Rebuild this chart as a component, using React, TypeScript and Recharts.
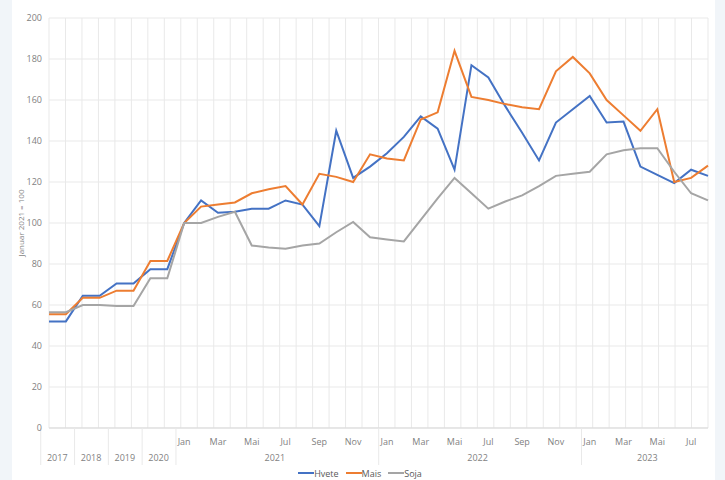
import React from 'react';
import { LineChart, Line, XAxis, YAxis, CartesianGrid, Legend } from 'recharts';

// one entry per point: half-year steps 2017-2020, then monthly from Jan 2021
const years = [
  '2017', '2017', '2018', '2018', '2019', '2019', '2020', '2020',
  '2021', '2021', '2021', '2021', '2021', '2021', '2021', '2021', '2021', '2021', '2021', '2021',
  '2022', '2022', '2022', '2022', '2022', '2022', '2022', '2022', '2022', '2022', '2022', '2022',
  '2023', '2023', '2023', '2023', '2023', '2023', '2023', '2023',
];

const monthLabels = [
  '', '', '', '', '', '', '', '',
  'Jan', '', 'Mar', '', 'Mai', '', 'Jul', '', 'Sep', '', 'Nov', '',
  'Jan', '', 'Mar', '', 'Mai', '', 'Jul', '', 'Sep', '', 'Nov', '',
  'Jan', '', 'Mar', '', 'Mai', '', 'Jul', '',
];

const hvete = [
  52, 52, 64.5, 64.5, 70.5, 70.5, 77.5, 77.5,
  100, 111, 105, 105.5, 107, 107, 111, 109, 98.5, 145, 122, 127.5,
  134, 142, 152, 146, 126, 177, 171, 157, 144, 130.5, 149, 155.5,
  162, 149, 149.5, 127.5, 123.5, 119.5, 126, 123,
];

const mais = [
  55.5, 55.5, 63.5, 63.5, 67, 67, 81.5, 81.5,
  100, 108, 109, 110, 114.5, 116.5, 118, 109, 124, 122.5, 120, 133.5,
  131.5, 130.5, 150.5, 154, 184, 161.5, 160, 158, 156.5, 155.5, 174, 181,
  173, 160, 152.5, 145, 155.5, 120, 122, 128,
];

const soja = [
  56.5, 56.5, 60, 60, 59.5, 59.5, 73, 73,
  100, 100, 103, 105.5, 89, 88, 87.5, 89, 90, 95.5, 100.5, 93,
  92, 91, 101.5, 112, 122, 114.5, 107, 110.5, 113.5, 118, 123, 124,
  125, 133.5, 135.5, 136.5, 136.5, 125, 114.5, 111,
];

const yTicks = [0, 20, 40, 60, 80, 100, 120, 140, 160, 180, 200];

const data = hvete.map((v, i) => ({
  key: `${years[i]}-${i}`,
  Hvete: v,
  Mais: mais[i],
  Soja: soja[i],
}));

const FONT = '"Open Sans", "Noto Sans", sans-serif';
const TEXT = '#7f7f7f';
const GRID = '#e9e9e9';

const CHART_W = 703;
const Y_AXIS_W = 37;
const RIGHT_M = 7;
// half of one category band
const HALF_BAND = (CHART_W - Y_AXIS_W - RIGHT_M) / data.length / 2;

const AxisTick = (props: any) => {
  const { x, y, payload } = props;
  const i: number = payload?.index ?? props.index;
  const half: number = payload?.offset > 0 ? payload.offset : HALF_BAND;
  const year = years[i];
  const groupStart = i === 0 || years[i - 1] !== year;
  let span = 0;
  for (let j = i; j < years.length && years[j] === year; j++) span++;
  const left = x - half;
  return (
    <g>
      {monthLabels[i] && (
        <text x={x} y={y + 17} textAnchor="middle" fontSize={9} fill={TEXT} fontFamily={FONT}>
          {monthLabels[i]}
        </text>
      )}
      {groupStart && <line x1={left} x2={left} y1={y} y2={y + 37} stroke={GRID} />}
      {groupStart && (
        <text x={left + span * half} y={y + 33} textAnchor="middle" fontSize={9} fill={TEXT} fontFamily={FONT}>
          {year}
        </text>
      )}
      {i === years.length - 1 && <line x1={x + half} x2={x + half} y1={y} y2={y + 37} stroke={GRID} />}
    </g>
  );
};

const LegendContent = (props: any) => (
  <div
    style={{
      display: 'flex',
      justifyContent: 'center',
      alignItems: 'center',
      height: 14,
      gap: 7,
      fontSize: 9,
      fontFamily: FONT,
      color: '#595959',
    }}
  >
    {(props.payload || []).map((p: any) => (
      <span key={p.value} style={{ display: 'flex', alignItems: 'center' }}>
        <span style={{ display: 'inline-block', width: 16, height: 2, background: p.color }} />
        <span>{p.value}</span>
      </span>
    ))}
  </div>
);

export default function App() {
  return (
    <div style={{ width: 725, height: 480, background: '#f1f5f9', position: 'relative' }}>
      <style>{'body{margin:0}'}</style>
      <div style={{ position: 'absolute', left: 12, top: 0, width: CHART_W, height: 480, background: '#fff' }}>
        <LineChart width={CHART_W} height={480} data={data} margin={{ top: 18, right: RIGHT_M, left: 0, bottom: 0 }}>
          <CartesianGrid
            stroke={GRID}
            verticalCoordinatesGenerator={({ offset }: any) =>
              Array.from({ length: data.length + 1 }, (_, i) => offset.left + (i * offset.width) / data.length)
            }
          />
          <XAxis
            dataKey="key"
            interval={0}
            tickLine={false}
            tickSize={0}
            tickMargin={0}
            height={38}
            axisLine={{ stroke: '#d9d9d9' }}
            tick={<AxisTick />}
          />
          <YAxis
            domain={[0, 200]}
            ticks={yTicks}
            width={Y_AXIS_W}
            axisLine={false}
            tickLine={false}
            tickSize={0}
            tickMargin={7}
            tick={{ fontSize: 9, fill: TEXT, fontFamily: FONT }}
            label={{
              value: 'Januar 2021 = 100',
              angle: -90,
              position: 'insideLeft',
              offset: 9,
              style: { textAnchor: 'middle', fontSize: 8, fill: TEXT, fontFamily: FONT },
            }}
          />
          <Legend verticalAlign="bottom" content={<LegendContent />} />
          <Line dataKey="Hvete" stroke="#4472c4" strokeWidth={2} dot={false} isAnimationActive={false} />
          <Line dataKey="Mais" stroke="#ed7d31" strokeWidth={2} dot={false} isAnimationActive={false} />
          <Line dataKey="Soja" stroke="#a5a5a5" strokeWidth={2} dot={false} isAnimationActive={false} />
        </LineChart>
      </div>
    </div>
  );
}
